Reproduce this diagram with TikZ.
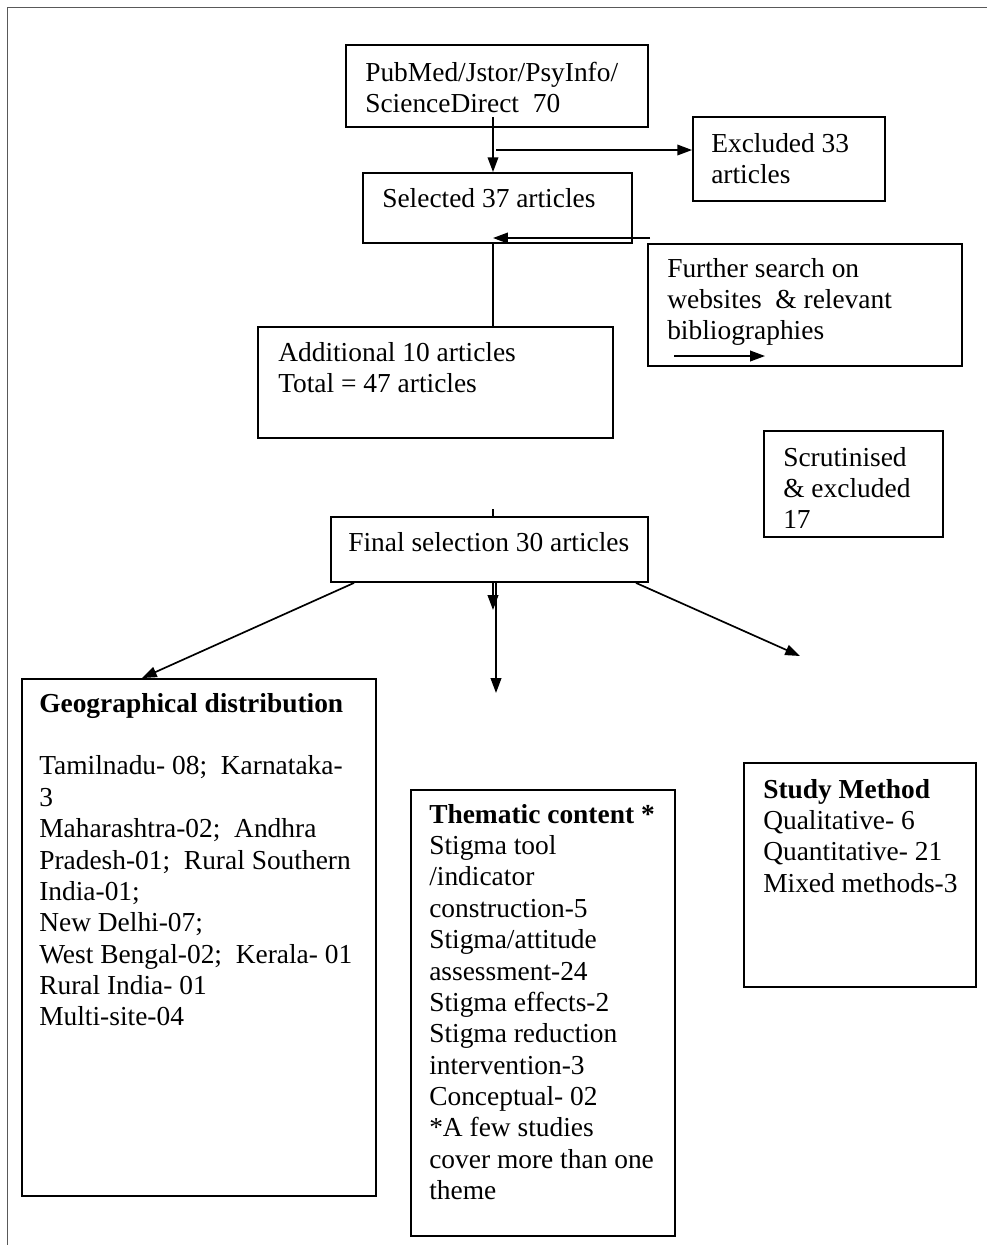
\documentclass[tikz,border=0pt]{standalone}
\usepackage{fontspec}
\setmainfont{Liberation Serif}
\usetikzlibrary{arrows.meta}

\begin{document}
\begin{tikzpicture}[x=0.025cm, y=-0.025cm,
        box/.style 2 args={draw, line width=1.3pt, minimum width=#1*0.025cm, minimum height=#2*0.025cm, inner sep=0pt},
        txt/.style={anchor=north west, inner sep=0pt, align=left, font=\fontsize{19.5}{22.3}\selectfont},
        arr/.style={line width=1.2pt, -{Triangle[length=10.5pt, width=7.5pt]}}]
        \useasboundingbox (0,0) rectangle (987,1245);
        \draw[line width=0.7pt, black!65] (7,1245) -- (7,7) -- (987,7);

        \node[box={302}{82}] (pub) at (497,86) {};
        \node[box={192}{84}] (exc) at (789,159) {};
        \node[box={269}{70}] (sel) at (497.5,208) {};
        \node[box={314}{122}] (fur) at (805,305) {};
        \node[box={355}{111}] (add) at (435.5,382.5) {};
        \node[box={179}{106}] (scr) at (853.5,484) {};
        \node[box={317}{65}] (fin) at (489.5,549.5) {};
        \node[box={354}{517}] (geo) at (199,937.5) {};
        \node[box={264}{446}] (thm) at (543,1013) {};
        \node[box={232}{224}] (stu) at (860,875) {};

        \node[txt] (pubtext) at (365,59) {\strut PubMed/Jstor/PsyInfo/\\ScienceDirect\ \ 70};
        \node[txt] (exctext) at (711,130) {\strut Excluded 33\\articles};
        \node[txt] (seltext) at (382,185) {\strut Selected 37 articles};
        \node[txt] (furtext) at (667,255) {\strut Further search on\\websites\ \ \& relevant\\bibliographies};
        \node[txt] (addtext) at (278,339) {\strut Additional 10 articles\\Total = 47 articles};
        \node[txt] (scrtext) at (783,444) {\strut Scrutinised\\\& excluded\\17};
        \node[txt] (fintext) at (348,529) {\strut Final selection 30 articles};
        \node[txt] (geotext) at (39,690) {\strut\textbf{Geographical distribution}\\[22.3pt]
            Tamilnadu- 08;\ \ Karnataka-\\3\\Maharashtra-02;\ \ Andhra\\Pradesh-01;\ \ Rural Southern\\
            India-01;\\New Delhi-07;\\West Bengal-02;\ \ Kerala- 01\\Rural India- 01\\Multi-site-04};
        \node[txt] (thmtext) at (429,801) {\strut\textbf{Thematic content *}\\Stigma tool\\/indicator\\
            construction-5\\Stigma/attitude\\assessment-24\\Stigma effects-2\\Stigma reduction\\
            intervention-3\\Conceptual- 02\\*A few studies\\cover more than one\\theme};
        \node[txt] (stutext) at (763,776) {\strut\textbf{Study Method}\\Qualitative- 6\\Quantitative- 21\\Mixed methods-3};

        \coordinate (pubin) at (493,117);
        \coordinate (excfrom) at (496,150);
        \coordinate (furfrom) at (650,238);
        \coordinate (furarrow) at (674,356);
        \coordinate (tick) at (493,509);
        \coordinate (midshort) at (493,610);
        \coordinate (midlong) at (496,693);
        \coordinate (rightend) at (800,656);

        \draw[arr] (pubin) -- (pubin |- sel.north);
        \draw[arr] (excfrom) -- (excfrom -| exc.west);
        \draw[arr] (furfrom) -- (furfrom -| pubin);
        \draw[line width=1.2pt] (pubin |- sel.south) -- (pubin |- add.north);
        \draw[arr] (furarrow) -- ++(91,0) coordinate (furarrowend);
        \draw[line width=1.2pt] (tick) -- (tick |- fin.north);

        \draw[arr] (fin.south -| 354,0) -- (geo.north -| 142,0);
        \draw[arr] (fin.south -| midshort) -- (midshort);
        \draw[arr] (fin.south -| midlong) -- (midlong);
        \draw[arr] (fin.south -| 636,0) -- (rightend);
\end{tikzpicture}
\end{document}
